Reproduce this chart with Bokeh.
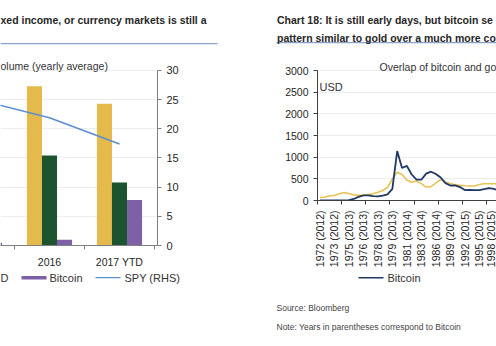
import math
from bokeh.plotting import figure
from bokeh.layouts import row, column
from bokeh.models import Range1d, FixedTicker, Label
from bokeh.embed import file_html
from bokeh.resources import INLINE

FONT = "Liberation Sans"
TXT = "#262626"

# ---------------- left chart data (volume, yearly average) ----------------
vol_categories = ["2015", "2016", "2017 YTD"]
vol_gold = [None, 27.3, 24.3]
vol_fx = [None, 15.4, 10.8]
vol_bitcoin = [0.45, 1.0, 7.8]
spy_rhs = [24.9, 21.9, 17.4]
vol_ticks = [0, 5, 10, 15, 20, 25, 30]

# ---------------- right chart data (bitcoin vs gold, USD) ----------------
bitcoin_usd = [5, 5, 5, 5, 5, 5, 10, 35, 85, 120, 120, 100, 95, 115, 140, 270,
               1140, 750, 800, 600, 480, 480, 620, 665, 610, 530, 400, 345, 350,
               310, 240, 245, 240, 240, 260, 285, 270, 230]
gold_usd = [70, 75, 110, 115, 155, 185, 160, 130, 118, 122, 135, 155, 190, 230,
            300, 500, 650, 600, 465, 420, 450, 390, 310, 320, 400, 485, 420, 390,
            365, 350, 340, 335, 335, 370, 385, 385, 385, 385]
period_labels = ["1972 (2012)", "1973 (2012)", "1975 (2013)", "1976 (2013)",
                 "1978 (2013)", "1979 (2013)", "1981 (2014)", "1983 (2014)",
                 "1986 (2014)", "1989 (2014)", "1992 (2015)", "1995 (2015)",
                 "1998 (2015)"]
label_step = 3
tick_step = 5
usd_ticks = [0, 500, 1000, 1500, 2000, 2500, 3000]

GOLD = "#E3BA4B"
GREEN = "#1C5430"
PURPLE = "#7D60A6"
SPY = "#5A8ED1"
NAVY = "#1F3864"
GOLDLINE = "#E8C255"
RULE = "#8AA2C8"


def no_align(p):
    try:
        p.frame_align = False
    except Exception:
        pass


def text_fig(w, y_top, y_bot):
    f = figure(width=w, height=y_bot - y_top, output_backend="svg", toolbar_location=None,
               x_range=Range1d(0, w), y_range=Range1d(y_bot, y_top),
               x_axis_location=None, y_axis_location=None,
               min_border=0, min_border_left=0, min_border_right=0,
               min_border_top=0, min_border_bottom=0)
    f.outline_line_color = None
    f.grid.visible = False
    no_align(f)
    return f


def add_text(f, x, y, text, size="11px", style="normal", color=TXT, baseline="alphabetic"):
    f.add_layout(Label(x=x, y=y, text=text, text_font=FONT, text_font_size=size,
                       text_font_style=style, text_color=color, text_baseline=baseline,
                       text_align="left"))


def add_bar(f, x0, x1, y0, y1, color):
    f.quad(left=[x0], right=[x1], top=[y0], bottom=[y1], fill_color=color, line_color=None)


def frame_text(p, x, y, text, size="10.5px", color="#333333"):
    p.add_layout(Label(x=x, y=y, x_units="screen", y_units="screen", text=text,
                       text_font=FONT, text_font_size=size, text_color=color,
                       text_baseline="alphabetic", text_align="left"))


# ======================= TOP TEXT STRIP (0..48 px) =======================
top = text_fig(496, 0, 48)
add_text(top, 0, 19, "xed income, or currency markets is still a", size="10.5px", style="bold")
add_bar(top, 0, 217, 42.5, 43.7, RULE)
add_text(top, 276.5, 19, "Chart 18: It is still early days, but bitcoin se", size="10.5px",
         style="bold")
add_text(top, 276.5, 37, "pattern similar to gold over a much more co", size="10.5px",
         style="bold")
add_bar(top, 276, 496, 41.5, 42.7, RULE)

# ======================= LEFT CHART (48..270 px) =======================
p1 = figure(width=250, height=222, output_backend="svg", toolbar_location=None,
            x_range=Range1d(1.3, 3.543), y_range=Range1d(0, 33.75),
            y_axis_location="right",
            min_border_left=0, min_border_right=93, min_border_top=0,
            min_border_bottom=24)
no_align(p1)
p1.outline_line_color = None
p1.xgrid.grid_line_color = None
p1.ygrid.grid_line_color = "#ededed"
p1.ygrid.ticker = FixedTicker(ticks=vol_ticks)

ya = p1.yaxis[0]
ya.ticker = FixedTicker(ticks=vol_ticks)
ya.bounds = (vol_ticks[0], vol_ticks[-1])
ya.axis_line_color = "#7f7f7f"
ya.major_tick_line_color = "#7f7f7f"
ya.major_tick_out = 4
ya.major_tick_in = 0
ya.minor_tick_line_color = None
ya.major_label_text_font = FONT
ya.major_label_text_font_size = "11px"
ya.major_label_text_color = TXT
ya.major_label_standoff = 5

xa = p1.xaxis[0]
cat_pos = [i + 1 for i in range(len(vol_categories))]
xa.ticker = FixedTicker(ticks=cat_pos, minor_ticks=[c + 0.5 for c in cat_pos])
xa.major_label_overrides = {c: lab for c, lab in zip(cat_pos, vol_categories)}
xa.axis_line_color = "#7f7f7f"
xa.major_tick_line_color = None
xa.major_tick_out = 0
xa.major_tick_in = 0
xa.minor_tick_line_color = "#7f7f7f"
xa.minor_tick_out = 4
xa.minor_tick_in = 0
xa.major_label_text_font = FONT
xa.major_label_text_font_size = "10.5px"
xa.major_label_text_color = TXT
xa.major_label_standoff = 6

bw = 0.215
for vals, off, col in [(vol_gold, -bw, GOLD), (vol_fx, 0.0, GREEN), (vol_bitcoin, bw, PURPLE)]:
    xs_b = [c + off for c, v in zip(cat_pos, vals) if v is not None]
    tops = [v for v in vals if v is not None]
    p1.vbar(x=xs_b, top=tops, bottom=0, width=bw, fill_color=col, line_color=None)
p1.line(x=cat_pos, y=spy_rhs, line_color=SPY, line_width=1.6)
frame_text(p1, 0, 180, "olume (yearly average)")

# ======================= RIGHT CHART (48..270 px) =======================
n = len(gold_usd)
xs = list(range(n))
p2 = figure(width=246, height=222, output_backend="svg", toolbar_location=None,
            x_range=Range1d(-0.5, 36.56), y_range=Range1d(0, 3000 * 152 / 130),
            min_border_left=67, min_border_right=0, min_border_top=0,
            min_border_bottom=70)
no_align(p2)
p2.outline_line_color = None
p2.xgrid.grid_line_color = None
p2.ygrid.grid_line_color = "#ededed"
p2.ygrid.ticker = FixedTicker(ticks=usd_ticks)

y2 = p2.yaxis[0]
y2.ticker = FixedTicker(ticks=usd_ticks)
y2.bounds = (usd_ticks[0], usd_ticks[-1])
y2.axis_line_color = "#404040"
y2.major_tick_line_color = "#404040"
y2.major_tick_out = 4
y2.major_tick_in = 0
y2.minor_tick_line_color = None
y2.major_label_text_font = FONT
y2.major_label_text_font_size = "10.5px"
y2.major_label_text_color = TXT
y2.major_label_standoff = 5

x2 = p2.xaxis[0]
lab_pos = [i * label_step for i in range(len(period_labels))]
x2.ticker = FixedTicker(ticks=lab_pos,
                        minor_ticks=[k * tick_step - 0.5 for k in range(n // tick_step + 1)])
x2.major_label_overrides = {pos: lab for pos, lab in zip(lab_pos, period_labels)}
x2.major_label_orientation = math.pi / 2
x2.axis_line_color = "#404040"
x2.major_tick_line_color = None
x2.major_tick_out = 0
x2.major_tick_in = 0
x2.minor_tick_line_color = "#404040"
x2.minor_tick_out = 4
x2.minor_tick_in = 0
x2.major_label_text_font = FONT
x2.major_label_text_font_size = "10.5px"
x2.major_label_text_color = TXT
x2.major_label_standoff = 6

p2.line(x=xs, y=gold_usd, line_color=GOLDLINE, line_width=1.6)
p2.line(x=xs, y=bitcoin_usd, line_color=NAVY, line_width=1.8)
frame_text(p2, 2, 114, "USD", size="11px")
frame_text(p2, 62, 134, "Overlap of bitcoin and go")

# ======================= BOTTOM TEXT STRIP (270..346 px) =======================
bot = text_fig(496, 270, 346)
add_text(bot, 0, 277, "D", baseline="middle", color="#333333")
add_bar(bot, 21, 46, 275.5, 279, PURPLE)
add_text(bot, 49, 277, "Bitcoin", baseline="middle", color="#333333")
add_bar(bot, 95, 120, 276.5, 277.7, SPY)
add_text(bot, 124, 277, "SPY (RHS)", baseline="middle", color="#333333")
add_bar(bot, 358, 383, 276.5, 278, NAVY)
add_text(bot, 387, 277, "Bitcoin", baseline="middle", color="#333333")
add_text(bot, 276, 307, "Source: Bloomberg", size="8.5px", baseline="middle", color="#444444")
add_text(bot, 276, 326, "Note: Years in parentheses correspond to Bitcoin", size="8.5px",
         baseline="middle", color="#444444")

layout = column(top, row(p1, p2, spacing=0), bot, spacing=0)
open("out.html", "w").write(file_html(layout, INLINE))
